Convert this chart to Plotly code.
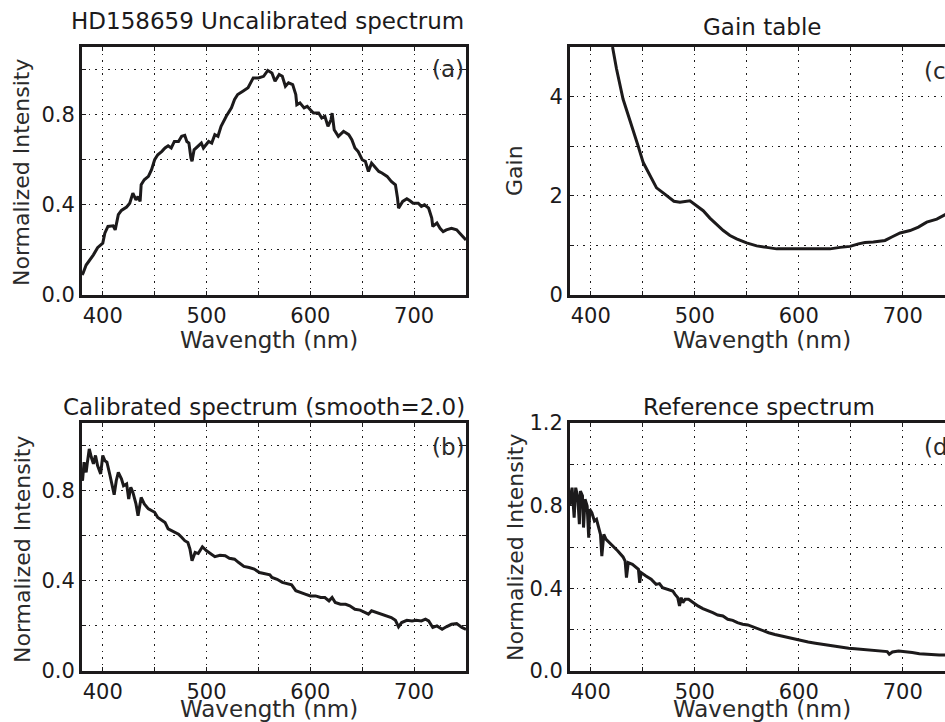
import plotly.graph_objects as go

W, H = 945, 722

# ---- (a) uncalibrated spectrum ----
wl_a = [380, 381, 384, 391, 395, 400, 402, 405, 410, 412, 415, 418, 423, 426, 429, 432, 434, 436, 437,
        440, 444, 447, 450, 453, 457, 460, 463, 466, 469, 473, 476, 479, 481, 483, 485, 486, 488, 492,
        495, 497, 502, 505, 508, 511, 514, 519, 524, 527, 530, 535, 540, 545, 550, 555, 559, 563, 566,
        570, 573, 576, 579, 583, 586, 587, 590, 594, 597, 600, 603, 608, 611, 614, 617, 620, 621, 623,
        627, 632, 637, 640, 643, 646, 650, 653, 656, 659, 662, 666, 669, 674, 678, 682, 684, 685, 689,
        693, 696, 699, 704, 707, 710, 714, 717, 718, 722, 725, 728, 731, 736, 741, 744, 747, 750]
flux_a = [0.09, 0.096, 0.133, 0.178, 0.21, 0.23, 0.274, 0.304, 0.307, 0.289, 0.356, 0.375, 0.39, 0.407,
          0.452, 0.422, 0.437, 0.415, 0.489, 0.511, 0.526, 0.556, 0.60, 0.622, 0.637, 0.652, 0.662, 0.652,
          0.681, 0.681, 0.704, 0.708, 0.681, 0.674, 0.607, 0.593, 0.644, 0.659, 0.674, 0.652, 0.681, 0.674,
          0.711, 0.704, 0.748, 0.793, 0.83, 0.867, 0.889, 0.904, 0.919, 0.963, 0.963, 0.97, 0.996, 0.985,
          0.948, 0.978, 0.97, 0.926, 0.941, 0.933, 0.889, 0.844, 0.852, 0.83, 0.837, 0.822, 0.807, 0.807,
          0.785, 0.793, 0.748, 0.778, 0.807, 0.733, 0.704, 0.726, 0.711, 0.689, 0.652, 0.637, 0.60, 0.593,
          0.548, 0.585, 0.57, 0.548, 0.541, 0.526, 0.504, 0.489, 0.43, 0.385, 0.415, 0.427, 0.418, 0.407,
          0.407, 0.393, 0.40, 0.385, 0.341, 0.304, 0.319, 0.296, 0.281, 0.289, 0.296, 0.289, 0.274, 0.259,
          0.244]

# ---- (b) calibrated spectrum ----
wl_b = [380, 380.5, 382, 384, 385, 387, 389, 391, 393, 395, 398, 400, 402, 404, 407, 409, 411, 413, 415,
        418, 420, 423, 425, 427, 429, 432, 434, 437, 440, 444, 447, 450, 453, 457, 460, 463, 466, 469,
        473, 476, 479, 482, 484, 486, 489, 492, 496, 500, 504, 508, 513, 518, 522, 527, 531, 536, 541,
        546, 551, 556, 561, 563, 568, 573, 578, 582, 586, 590, 595, 600, 605, 610, 614, 618, 621, 624,
        629, 634, 638, 643, 648, 653, 656, 659, 664, 669, 674, 678, 682, 685, 688, 693, 698, 702, 707,
        711, 714, 718, 722, 727, 731, 736, 741, 746, 750]
flux_b = [0.86, 0.844, 0.926, 0.881, 0.919, 0.985, 0.948, 0.919, 0.956, 0.911, 0.874, 0.956, 0.933, 0.926,
          0.867, 0.83, 0.782, 0.844, 0.881, 0.852, 0.822, 0.83, 0.763, 0.815, 0.793, 0.741, 0.689, 0.77,
          0.741, 0.719, 0.711, 0.704, 0.681, 0.667, 0.659, 0.63, 0.622, 0.615, 0.607, 0.593, 0.578, 0.57,
          0.541, 0.489, 0.526, 0.521, 0.551, 0.533, 0.519, 0.507, 0.513, 0.511, 0.50, 0.496, 0.481, 0.464,
          0.459, 0.452, 0.437, 0.433, 0.427, 0.415, 0.407, 0.393, 0.388, 0.382, 0.356, 0.348, 0.341, 0.333,
          0.333, 0.326, 0.326, 0.311, 0.326, 0.304, 0.296, 0.296, 0.289, 0.274, 0.27, 0.259, 0.252, 0.267,
          0.259, 0.252, 0.244, 0.237, 0.225, 0.196, 0.215, 0.225, 0.222, 0.225, 0.222, 0.23, 0.222, 0.193,
          0.20, 0.185, 0.196, 0.207, 0.21, 0.193, 0.185]

# ---- (c) gain table ----
wl_c = [420.9, 424.7, 431, 440.7, 445.6, 450.4, 456.8, 463.2, 469.6, 474.4, 479.9, 485.7, 490.5, 495.3,
        501.7, 508.1, 514.5, 521, 527.4, 533.8, 540.2, 549.8, 559.5, 569.1, 578.7, 591.5, 604.4, 617.2,
        630, 639.7, 649.3, 657.3, 663.7, 671.7, 682.9, 689.4, 697.4, 707, 715, 723, 732.7, 740.7, 750]
gain_c = [5.0, 4.56, 3.95, 3.34, 3.0, 2.67, 2.4, 2.16, 2.06, 1.98, 1.89, 1.87, 1.89, 1.9, 1.8, 1.7, 1.55,
          1.42, 1.3, 1.2, 1.13, 1.05, 0.99, 0.96, 0.93, 0.93, 0.926, 0.926, 0.93, 0.96, 0.98, 1.03, 1.06,
          1.07, 1.1, 1.17, 1.25, 1.3, 1.37, 1.47, 1.53, 1.62, 1.70]

# ---- (d) reference spectrum ----
wl_d = [380, 380.4, 382, 383, 384, 385.5, 387.5, 389, 390, 392, 393, 394.5, 396.5, 398, 399, 401, 403.5,
        405.5, 407.4, 409.3, 410.6, 412.5, 414.7, 418, 421, 426, 431, 433, 434.3, 436, 440, 443.6, 445.8,
        447, 448.4, 453, 458, 462.8, 466, 469, 474, 478.8, 481, 483.6, 485.3, 486.9, 488.5, 490.7, 494,
        498, 503, 507.7, 512.5, 517.3, 522, 527, 531.7, 536.5, 541, 546, 551, 555.8, 560.6, 564, 571,
        577, 584, 590, 596, 603, 609, 616, 622, 629, 635, 641, 648, 654, 661, 667, 674, 680, 685, 687,
        690, 696, 703, 709, 716, 722, 728, 735, 741, 750]
flux_d = [0.80, 0.839, 0.887, 0.79, 0.742, 0.887, 0.839, 0.71, 0.871, 0.847, 0.694, 0.831, 0.798, 0.645,
          0.782, 0.766, 0.726, 0.734, 0.702, 0.661, 0.556, 0.661, 0.637, 0.621, 0.605, 0.581, 0.552, 0.532,
          0.452, 0.524, 0.516, 0.50, 0.492, 0.427, 0.476, 0.46, 0.444, 0.419, 0.423, 0.403, 0.395, 0.387,
          0.371, 0.355, 0.315, 0.355, 0.331, 0.347, 0.347, 0.331, 0.315, 0.302, 0.29, 0.282, 0.271, 0.266,
          0.25, 0.245, 0.234, 0.226, 0.223, 0.213, 0.206, 0.197, 0.185, 0.177, 0.169, 0.161, 0.153, 0.145,
          0.14, 0.134, 0.129, 0.126, 0.121, 0.113, 0.11, 0.108, 0.105, 0.10, 0.10, 0.097, 0.094, 0.081,
          0.092, 0.097, 0.094, 0.089, 0.084, 0.081, 0.081, 0.077, 0.077, 0.072]

titles = ["HD158659 Uncalibrated spectrum", "Gain table",
          "Calibrated spectrum (smooth=2.0)", "Reference spectrum"]
panel_tags = ["(a)", "(c)", "(b)", "(d)"]
xlabel = "Wavength (nm)"
ylabels = ["Normalized Intensity", "Gain", "Normalized Intensity", "Normalized Intensity"]

INK = "#1c1a1b"
GRID_DASH = "1.5px,5px"


def px(x):
    return x / W


def py(y):
    return 1 - y / H


fig = go.Figure()

series = [(wl_a, flux_a, "x", "y"), (wl_c, gain_c, "x2", "y2"),
          (wl_b, flux_b, "x3", "y3"), (wl_d, flux_d, "x4", "y4")]
for xs, ys, xa, ya in series:
    fig.add_trace(go.Scatter(x=xs, y=ys, mode="lines", xaxis=xa, yaxis=ya,
                             line=dict(color=INK, width=3), showlegend=False,
                             hoverinfo="skip"))

tickfont = dict(family="DejaVu Sans", size=21, color=INK)

left_dom = [px(82), px(466)]
right_dom = [px(570), 1.0]
top_dom = [py(295), py(47)]
bot_dom = [py(671), py(423)]


def xaxis(dom, anchor, rng):
    return dict(domain=dom, anchor=anchor, range=rng, dtick=100, tick0=400,
                showline=True, linewidth=3, linecolor=INK, mirror="ticks",
                showgrid=True, gridcolor=INK, gridwidth=1.2, griddash=GRID_DASH,
                minor=dict(dtick=50, tick0=400, showgrid=True, gridcolor=INK,
                           gridwidth=1.2, griddash=GRID_DASH,
                           ticks="inside", ticklen=4, tickcolor=INK),
                ticks="inside", ticklen=4, tickcolor=INK, tickfont=tickfont,
                zeroline=False, fixedrange=True, automargin=False)


def yaxis(dom, anchor, rng, dtick, minor, fmt, mirror):
    return dict(domain=dom, anchor=anchor, range=rng, dtick=dtick, tick0=0,
                tickformat=fmt,
                showline=True, linewidth=3, linecolor=INK, mirror=mirror,
                showgrid=True, gridcolor=INK, gridwidth=1.2, griddash=GRID_DASH,
                minor=dict(dtick=minor, tick0=0, showgrid=True, gridcolor=INK,
                           gridwidth=1.2, griddash=GRID_DASH,
                           ticks="inside", ticklen=4, tickcolor=INK),
                ticks="inside", ticklen=4, tickcolor=INK, tickfont=tickfont,
                zeroline=False, fixedrange=True, automargin=False)


fig.update_layout(
    width=W, height=H, margin=dict(l=0, r=0, t=0, b=0, autoexpand=False),
    paper_bgcolor="white", plot_bgcolor="white",
    xaxis=xaxis(left_dom, "y", [380, 750]),
    yaxis=yaxis(top_dom, "x", [0, 1.1], 0.4, 0.2, ".1f", "ticks"),
    xaxis2=xaxis(right_dom, "y2", [380, 380 + 375 / 1.04]),
    yaxis2=yaxis(top_dom, "x2", [0, 5], 2, 1, "d", False),
    xaxis3=xaxis(left_dom, "y3", [380, 750]),
    yaxis3=yaxis(bot_dom, "x3", [0, 1.1], 0.4, 0.2, ".1f", "ticks"),
    xaxis4=xaxis(right_dom, "y4", [380, 380 + 375 / 1.04]),
    yaxis4=yaxis(bot_dom, "x4", [0, 1.2], 0.4, 0.2, ".1f", False),
)

ann = []
titlefont = dict(family="DejaVu Sans", size=23, color=INK)
xlabfont = dict(family="DejaVu Sans", size=23, color="#2a2a2a")
ylabfont = dict(family="DejaVu Sans", size=22, color="#2a2a2a")
title_pos = [(267, 21), (762, 27), (264, 407), (759, 407)]
for t, (cx, cy) in zip(titles, title_pos):
    ann.append(dict(text=t, x=px(cx), y=py(cy), xref="paper", yref="paper",
                    showarrow=False, xanchor="center", yanchor="middle", font=titlefont))
for cx, cy in [(269, 340), (762, 340), (269, 709), (762, 709)]:
    ann.append(dict(text=xlabel, x=px(cx), y=py(cy), xref="paper", yref="paper",
                    showarrow=False, xanchor="center", yanchor="middle", font=xlabfont))
for t, (cx, cy) in zip(ylabels, [(22, 172), (515, 171), (22, 549), (515, 547)]):
    ann.append(dict(text=t, x=px(cx), y=py(cy), xref="paper", yref="paper",
                    showarrow=False, xanchor="center", yanchor="middle",
                    textangle=-90, font=ylabfont))
for t, (lx, cy) in zip(panel_tags, [(430, 69), (922, 71), (430, 447), (922, 447)]):
    ann.append(dict(text=t, x=px(lx), y=py(cy), xref="paper", yref="paper",
                    showarrow=False, xanchor="left", yanchor="middle", font=xlabfont))
fig.update_layout(annotations=ann)

fig.write_html(
    "out.html",
    config={"displayModeBar": False},
    post_script="document.body.style.margin='0';document.body.style.overflow='hidden';",
)
